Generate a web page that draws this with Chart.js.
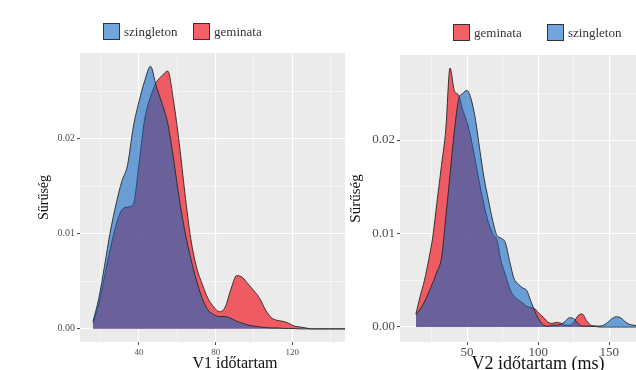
<!DOCTYPE html>
<html>
<head>
<meta charset="utf-8">
<script src="https://cdn.jsdelivr.net/npm/chart.js@4.4.0/dist/chart.umd.min.js"></script>
<style>
  html, body { margin: 0; padding: 0; background: #fff; overflow: hidden; }
  body { width: 636px; height: 370px; position: relative; font-family: "Liberation Serif", serif; }
  #wrapV1 { position: absolute; left: 0; top: 0; width: 392px; height: 370px; }
  #wrapV2 { position: absolute; left: 345px; top: 0; width: 336px; height: 370px; background: #fff; }
  .legend-item { position: absolute; display: flex; align-items: center; font-size: 13px; color: #333; white-space: nowrap; }
  .legend-item .key { width: 15px; height: 15px; border: 1px solid #333; margin-right: 4px; }
</style>
</head>
<body>
<div id="wrapV1"><canvas id="v1Chart" width="392" height="370"></canvas></div>
<div id="wrapV2"><canvas id="v2Chart" width="336" height="370"></canvas></div>
<script>
// V1 durations (left panel)
const v1X = [16, 19, 22, 25, 28, 31, 34, 37, 40, 43, 46, 49, 52, 55, 58, 61, 64, 67, 70, 73,
  76, 79, 82, 85, 88, 91, 94, 97, 100, 103, 106, 109, 112, 115, 118, 121, 124, 127, 130, 133,
  136, 139, 142, 145, 148, 151, 154, 157, 160, 163];
const v1Szingleton = [0.0008, 0.0032, 0.0066, 0.0102, 0.0131, 0.0155, 0.0172, 0.0212, 0.0239, 0.0261,
  0.0276, 0.0255, 0.0237, 0.0216, 0.0179, 0.0137, 0.0102, 0.0074, 0.0051, 0.0032,
  0.0020, 0.0015, 0.0013, 0.0013, 0.0011, 0.0008, 0.0006, 0.0004, 0.0003, 0.0002,
  0.00015, 0.0001, 0.0001, 0.00005, 0.00004, 0.00003, 0, 0, 0, 0,
  0, 0, 0, 0, 0, 0, 0, 0, 0, 0];
const v1Geminata = [0.0006, 0.0026, 0.0055, 0.0084, 0.0109, 0.0125, 0.0128, 0.0131, 0.0174, 0.0221,
  0.0244, 0.0259, 0.0266, 0.0271, 0.0240, 0.0195, 0.0142, 0.0095, 0.0065, 0.0047,
  0.0032, 0.0023, 0.0018, 0.0023, 0.0042, 0.0056, 0.0054, 0.0047, 0.0040, 0.0032,
  0.0020, 0.0012, 0.0009, 0.0008, 0.0006, 0.0003, 0.0002, 0.0001, 0, 0,
  0, 0, 0, 0, 0, 0, 0, 0, 0, 0];

// V2 durations in ms (right panel)
const v2X = [14, 17, 20, 23, 26, 29, 32, 35, 38, 41, 44, 47, 50, 53, 56, 59, 62, 65, 68, 71,
  74, 77, 80, 83, 86, 89, 92, 95, 98, 101, 104, 107, 110, 113, 116, 119, 122, 125, 128, 131,
  134, 137, 140, 143, 146, 149, 152, 155, 158, 161, 164, 167, 170, 173, 176, 179, 182, 185, 188];
const v2Geminata = [0.0014, 0.0033, 0.0050, 0.0072, 0.0098, 0.0136, 0.0173, 0.0211, 0.0277, 0.0253,
  0.0248, 0.0232, 0.0219, 0.0200, 0.0176, 0.0152, 0.0130, 0.0112, 0.0100, 0.0093,
  0.0070, 0.0056, 0.0041, 0.0033, 0.0029, 0.0026, 0.0022, 0.0021, 0.0019, 0.0014,
  0.0010, 0.0005, 0.0004, 0.0005, 0.0004, 0.0002, 0.0002, 0.0005, 0.0012, 0.0014,
  0.0007, 0.0002, 0.0001, 0, 0, 0, 0, 0, 0, 0,
  0, 0, 0, 0, 0, 0, 0, 0, 0];
const v2Szingleton = [0.0013, 0.0019, 0.0027, 0.0037, 0.0048, 0.0060, 0.0074, 0.0117, 0.0163, 0.0209,
  0.0243, 0.0250, 0.0253, 0.0243, 0.0221, 0.0189, 0.0159, 0.0136, 0.0114, 0.0098,
  0.0095, 0.0090, 0.0070, 0.0052, 0.0046, 0.0042, 0.0039, 0.0027, 0.0016, 0.0007,
  0.0002, 0.0001, 0.0002, 0.0002, 0.0003, 0.0006, 0.0010, 0.0009, 0.0004, 0.0001,
  0.0001, 0.0001, 0.0001, 0.0001, 0.0002, 0.0005, 0.0009, 0.0011, 0.0010, 0.0006,
  0.0003, 0.0002, 0.0001, 0, 0, 0, 0, 0, 0];

// axis ticks
const yMajor = [0, 0.01, 0.02];
const yLabels = ['0.00', '0.01', '0.02'];
const yMinor = [0.005, 0.015, 0.025];
const v1XMajor = [40, 80, 120];
const v1XMinor = [20, 60, 100, 140];
const v2XMajor = [50, 100, 150];
const v2XMinor = [25, 75, 125, 175];

const blueFill = 'rgba(10,100,195,0.58)';
const redFill = 'rgba(240,30,40,0.7)';
const serif = '"Liberation Serif", "Times New Roman", serif';

// grey panel behind the grid, ggplot style
const panelBackground = {
  id: 'panelBackground',
  beforeDraw(chart) {
    const { ctx, chartArea: a } = chart;
    ctx.save();
    ctx.fillStyle = '#ebebeb';
    ctx.fillRect(a.left, a.top, a.right - a.left, a.bottom - a.top);
    ctx.restore();
  }
};

function series(label, xs, ys, color) {
  return {
    label: label,
    data: xs.map((x, i) => ({ x: x, y: ys[i] })),
    backgroundColor: color,
    borderColor: '#262626',
    borderWidth: 0.9,
    fill: 'origin',
    pointRadius: 0,
    cubicInterpolationMode: 'monotone'
  };
}

function axis(major, minor, labels, opts) {
  const isMajor = v => major.some(m => Math.abs(m - v) < 1e-9);
  return {
    type: 'linear',
    min: opts.min,
    max: opts.max,
    afterBuildTicks: scale => {
      scale.ticks = major.concat(minor).sort((a, b) => a - b).map(v => ({ value: v }));
    },
    afterFit: opts.afterFit,
    border: { display: false },
    grid: {
      color: '#ffffff',
      lineWidth: c => isMajor(c.tick.value) ? 1.1 : 0.5,
      tickColor: c => isMajor(c.tick.value) ? '#444' : 'rgba(0,0,0,0)',
      tickWidth: 1,
      tickLength: 3
    },
    ticks: {
      autoSkip: false,
      maxRotation: 0,
      padding: opts.tickPadding,
      color: '#4d4d4d',
      font: { family: serif, size: opts.tickSize },
      callback: v => {
        const i = major.findIndex(m => Math.abs(m - v) < 1e-9);
        return i >= 0 ? labels[i] : '';
      }
    },
    title: {
      display: true,
      text: opts.title,
      color: '#111',
      font: { family: serif, size: opts.titleSize, lineHeight: opts.titleLine },
      padding: opts.titlePadding
    }
  };
}

function makeChart(id, datasets, xAxis, yAxis, padding) {
  return new Chart(document.getElementById(id), {
    type: 'line',
    data: { datasets: datasets },
    options: {
      responsive: false,
      animation: false,
      layout: { padding: padding },
      plugins: { legend: { display: false }, tooltip: { enabled: false } },
      scales: { x: xAxis, y: yAxis }
    },
    plugins: [panelBackground]
  });
}

makeChart('v1Chart',
  [series('szingleton', v1X, v1Szingleton, blueFill), series('geminata', v1X, v1Geminata, redFill)],
  axis(v1XMajor, v1XMinor, v1XMajor.map(String), {
    min: 9.2, max: 171, tickSize: 9, tickPadding: 2,
    title: 'V1 időtartam', titleSize: 16, titleLine: 1, titlePadding: { top: 0, bottom: -2 },
    afterFit: s => { s.height = 28; }
  }),
  axis(yMajor, yMinor, yLabels, {
    min: -0.00138, max: 0.0290, tickSize: 10, tickPadding: 2,
    title: 'Sűrűség', titleSize: 14, titleLine: 1.2, titlePadding: { top: 36, bottom: 0 },
    afterFit: s => { s.width = 80; }
  }),
  { top: 53, right: 2, bottom: 0, left: 0 });

makeChart('v2Chart',
  [series('szingleton', v2X, v2Szingleton, blueFill), series('geminata', v2X, v2Geminata, redFill)],
  axis(v2XMajor, v2XMinor, v2XMajor.map(String), {
    min: 2.8, max: 197, tickSize: 13, tickPadding: 0,
    title: 'V2 időtartam (ms)', titleSize: 18, titleLine: 1, titlePadding: { top: 0, bottom: -3 },
    afterFit: s => { s.height = 28; }
  }),
  axis(yMajor, yMinor, yLabels, {
    min: -0.0016, max: 0.0291, tickSize: 13, tickPadding: 2,
    title: 'Sűrűség', titleSize: 15, titleLine: 1.2, titlePadding: { top: 2, bottom: 0 },
    afterFit: s => { s.width = 55; }
  }),
  { top: 55, right: 5, bottom: 0, left: 0 });

// legends above each panel
const legends = [
  { label: 'szingleton', color: blueFill, left: 103, top: 23 },
  { label: 'geminata', color: redFill, left: 193, top: 23 },
  { label: 'geminata', color: redFill, left: 453, top: 24 },
  { label: 'szingleton', color: blueFill, left: 547, top: 24 }
];
legends.forEach(item => {
  const el = document.createElement('div');
  el.className = 'legend-item';
  el.style.left = item.left + 'px';
  el.style.top = item.top + 'px';
  el.innerHTML = `<span class="key" style="background:${item.color}"></span><span>${item.label}</span>`;
  document.body.appendChild(el);
});
</script>
</body>
</html>
